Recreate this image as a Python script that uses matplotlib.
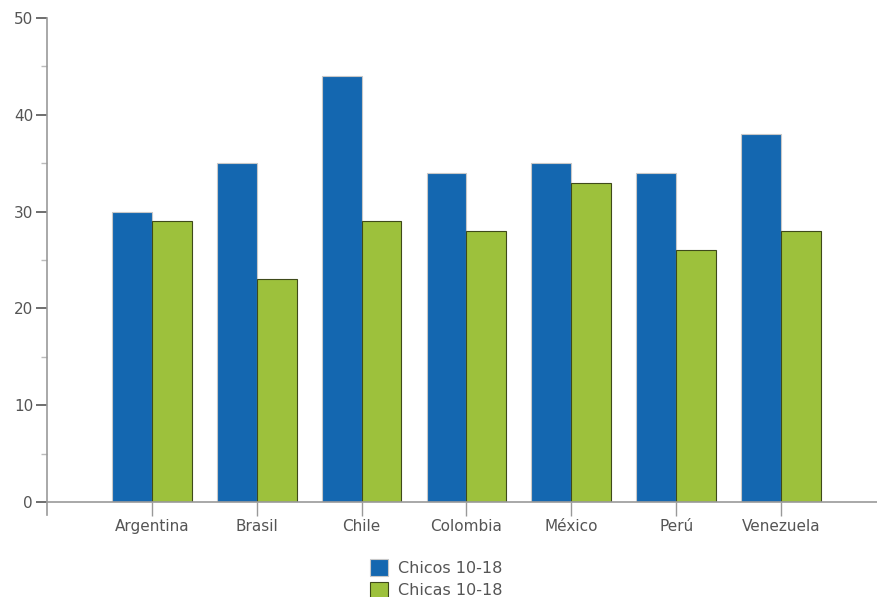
import numpy as np
import matplotlib.pyplot as plt
from matplotlib.ticker import MultipleLocator

paises = ["Argentina", "Brasil", "Chile", "Colombia", "México", "Perú", "Venezuela"]
chicos = [30, 35, 44, 34, 35, 34, 38]
chicas = [29, 23, 29, 28, 33, 26, 28]

AZUL = "#1467b0"
VERDE = "#9dc13c"
GRIS = "#999999"
TEXTO = "#555555"

fig = plt.figure(figsize=(8.78, 5.97), dpi=100)
ax = fig.add_axes([0.0535, 0.159, 0.946, 0.811])

x = np.arange(len(paises))
w = 0.38
ax.bar(x - w / 2, chicos, w, color=AZUL, edgecolor="#c8c8c8", linewidth=0.8,
       label="Chicos 10-18", zorder=2)
ax.bar(x + w / 2, chicas, w, color=VERDE, edgecolor="#3f4a1a", linewidth=0.8,
       label="Chicas 10-18", zorder=2)

ax.set_xlim(-1, 6.92)
ax.set_ylim(0, 50)
ax.set_xticks(x)
ax.set_xticklabels(paises)
ax.yaxis.set_major_locator(MultipleLocator(10))
ax.yaxis.set_minor_locator(MultipleLocator(5))

for s in ["top", "right"]:
    ax.spines[s].set_visible(False)
for s in ["left", "bottom"]:
    ax.spines[s].set_color(GRIS)
    ax.spines[s].set_linewidth(1.2)
ax.spines["left"].set_bounds(-1.3, 50)

ax.tick_params(axis="y", which="major", length=8, width=1.2, color="#555555",
               labelcolor=TEXTO, labelsize=11, pad=2)
ax.tick_params(axis="y", which="minor", length=4, width=1, color="#bbbbbb")
ax.tick_params(axis="x", length=10, width=1, color=GRIS, labelcolor=TEXTO,
               labelsize=11, pad=2)

fig.legend(loc="upper left", bbox_to_anchor=(0.421, 0.063), frameon=False,
           fontsize=11.5, labelcolor=TEXTO, handlelength=1.15, handleheight=1.2,
           handletextpad=0.6, labelspacing=0.35, borderpad=0, borderaxespad=0)

fig.savefig("out.png", dpi=100)
